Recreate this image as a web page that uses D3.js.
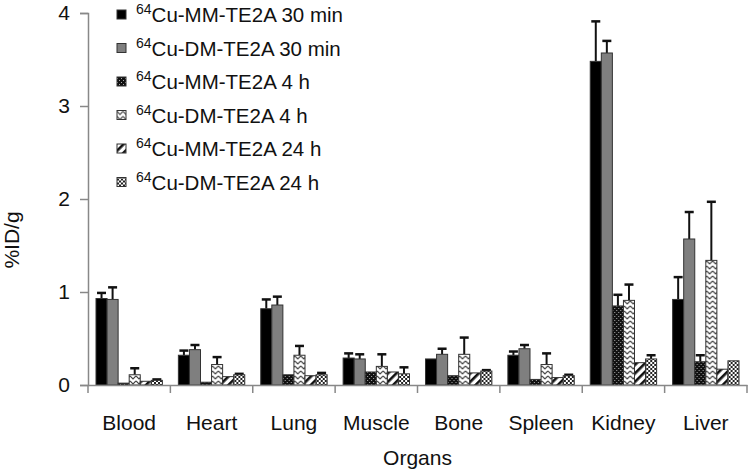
<!DOCTYPE html>
<html>
<head>
<meta charset="utf-8">
<script src="https://cdn.jsdelivr.net/npm/d3@7"></script>
<style>
	body { margin: 0; background: #fff; }
	text { font-family: "Liberation Sans", Arial, sans-serif; fill: #111; }
</style>
</head>
<body>
<div id="chart"></div>
<script>

// data
var organs = ["Blood", "Heart", "Lung", "Muscle", "Bone", "Spleen", "Kidney", "Liver"];

var seriesNames = [
	"Cu-MM-TE2A 30 min",
	"Cu-DM-TE2A 30 min",
	"Cu-MM-TE2A 4 h",
	"Cu-DM-TE2A 4 h",
	"Cu-MM-TE2A 24 h",
	"Cu-DM-TE2A 24 h"
];

var mm30  = [0.93, 0.32, 0.82, 0.29, 0.28, 0.32, 3.48, 0.92];
var dm30  = [0.92, 0.38, 0.86, 0.28, 0.33, 0.39, 3.57, 1.57];
var mm4h  = [0.02, 0.03, 0.11, 0.14, 0.10, 0.06, 0.85, 0.25];
var dm4h  = [0.11, 0.22, 0.32, 0.20, 0.33, 0.22, 0.91, 1.34];
var mm24h = [0.04, 0.09, 0.10, 0.14, 0.13, 0.08, 0.24, 0.17];
var dm24h = [0.05, 0.11, 0.11, 0.12, 0.15, 0.10, 0.28, 0.26];

var mm30Err  = [0.06, 0.05, 0.10, 0.05, 0.00, 0.04, 0.43, 0.24];
var dm30Err  = [0.13, 0.05, 0.09, 0.05, 0.06, 0.04, 0.13, 0.29];
var mm4hErr  = [0.00, 0.00, 0.00, 0.00, 0.00, 0.00, 0.12, 0.07];
var dm4hErr  = [0.07, 0.08, 0.10, 0.13, 0.18, 0.12, 0.17, 0.63];
var mm24hErr = [0.00, 0.00, 0.00, 0.00, 0.00, 0.00, 0.00, 0.00];
var dm24hErr = [0.01, 0.01, 0.02, 0.07, 0.01, 0.01, 0.04, 0.00];

var yTicks = [0, 1, 2, 3, 4];

var values = [mm30, dm30, mm4h, dm4h, mm24h, dm24h];
var errors = [mm30Err, dm30Err, mm4hErr, dm4hErr, mm24hErr, dm24hErr];
var fills  = ["#000", "#7f7f7f", "url(#pMM4)", "url(#pDM4)", "url(#pMM24)", "url(#pDM24)"];

var width = 750, height = 472;
var margin = { left: 88, right: 3, top: 13, bottom: 87 };

var svg = d3.select("#chart")
	.append("svg")
	.attr("width", width)
	.attr("height", height);

// fill patterns
var defs = svg.append("defs");

var p = defs.append("pattern").attr("id", "pMM4")
	.attr("patternUnits", "userSpaceOnUse").attr("width", 4).attr("height", 4);
p.append("rect").attr("width", 4).attr("height", 4).attr("fill", "#111");
p.append("rect").attr("x", 0).attr("y", 0).attr("width", 1).attr("height", 1).attr("fill", "#aaa");
p.append("rect").attr("x", 2).attr("y", 2).attr("width", 1).attr("height", 1).attr("fill", "#aaa");

p = defs.append("pattern").attr("id", "pDM4")
	.attr("patternUnits", "userSpaceOnUse").attr("width", 6).attr("height", 5);
p.append("rect").attr("width", 6).attr("height", 5).attr("fill", "#fff");
p.append("path").attr("d", "M0,1 L3,4 L6,1").attr("fill", "none")
	.attr("stroke", "#444").attr("stroke-width", 1.2);

p = defs.append("pattern").attr("id", "pMM24")
	.attr("patternUnits", "userSpaceOnUse").attr("width", 6).attr("height", 6)
	.attr("patternTransform", "rotate(45)");
p.append("rect").attr("width", 6).attr("height", 6).attr("fill", "#fff");
p.append("rect").attr("width", 2.6).attr("height", 6).attr("fill", "#111");

p = defs.append("pattern").attr("id", "pDM24")
	.attr("patternUnits", "userSpaceOnUse").attr("width", 4).attr("height", 4);
p.append("rect").attr("width", 4).attr("height", 4).attr("fill", "#fff");
p.append("rect").attr("x", 0).attr("y", 0).attr("width", 2).attr("height", 2).attr("fill", "#222");
p.append("rect").attr("x", 2).attr("y", 2).attr("width", 2).attr("height", 2).attr("fill", "#222");

var x = d3.scaleBand()
	.domain(organs)
	.range([margin.left, width - margin.right])
	.paddingInner(0)
	.paddingOuter(0);

var xSub = d3.scaleBand()
	.domain(d3.range(seriesNames.length))
	.range([8, x.bandwidth() - 8]);

var y = d3.scaleLinear()
	.domain([0, 4])
	.range([height - margin.bottom, margin.top]);

// bars
var groups = svg.append("g").selectAll("g")
	.data(organs)
	.enter().append("g")
	.attr("transform", function(d) { return "translate(" + x(d) + ",0)"; });

groups.each(function(organ, i) {
	var g = d3.select(this);
	values.forEach(function(vals, s) {
		var bx = xSub(s), bw = xSub.bandwidth();
		var v = vals[i], e = errors[s][i];
		if (e > 0) {
			g.append("line")
				.attr("x1", bx + bw / 2).attr("x2", bx + bw / 2)
				.attr("y1", y(v)).attr("y2", y(v + e))
				.attr("stroke", "#111").attr("stroke-width", 2);
			g.append("line")
				.attr("x1", bx + bw / 2 - 4.5).attr("x2", bx + bw / 2 + 4.5)
				.attr("y1", y(v + e)).attr("y2", y(v + e))
				.attr("stroke", "#111").attr("stroke-width", 2.5);
		}
		g.append("rect")
			.attr("x", bx)
			.attr("y", y(v))
			.attr("width", bw)
			.attr("height", y(0) - y(v))
			.attr("fill", fills[s])
			.attr("stroke", "#333")
			.attr("stroke-width", 1);
	});
});

// axes
var yAxis = svg.append("g")
	.attr("transform", "translate(" + margin.left + ",0)")
	.call(d3.axisLeft(y).tickValues(yTicks).tickSize(8).tickPadding(10).tickFormat(d3.format("d")));

var xAxis = svg.append("g")
	.attr("transform", "translate(0," + y(0) + ")")
	.call(d3.axisBottom(x).tickSize(0).tickPadding(30));

[yAxis, xAxis].forEach(function(a) {
	a.select(".domain").attr("stroke", "#888").attr("stroke-width", 1.5);
	a.selectAll(".tick line").attr("stroke", "#888").attr("stroke-width", 1.5);
	a.selectAll("text").style("font-size", "21px").attr("fill", "#111");
});

// category boundary ticks
xAxis.selectAll(".sep")
	.data(organs.concat(["end"]))
	.enter().append("line")
	.attr("x1", function(d, i) { return margin.left + i * x.bandwidth(); })
	.attr("x2", function(d, i) { return margin.left + i * x.bandwidth(); })
	.attr("y1", 0).attr("y2", 8)
	.attr("stroke", "#888").attr("stroke-width", 1.5);

// axis titles
svg.append("text")
	.attr("x", (margin.left + width - margin.right) / 2)
	.attr("y", 465)
	.attr("text-anchor", "middle")
	.style("font-size", "21px")
	.text("Organs");

svg.append("text")
	.attr("transform", "translate(19,240) rotate(-90)")
	.attr("text-anchor", "middle")
	.style("font-size", "21px")
	.text("%ID/g");

// legend
var legend = svg.append("g").attr("transform", "translate(117,15)");
seriesNames.forEach(function(name, s) {
	var row = legend.append("g").attr("transform", "translate(0," + s * 33.5 + ")");
	row.append("rect")
		.attr("x", 0).attr("y", -5)
		.attr("width", 9).attr("height", 9)
		.attr("fill", fills[s])
		.attr("stroke", "#333").attr("stroke-width", 1);
	var t = row.append("text")
		.attr("x", 19).attr("y", 7)
		.style("font-size", "20.5px");
	t.append("tspan").attr("dy", -8).style("font-size", "14px").text("64");
	t.append("tspan").attr("dy", 8).text(name);
});

</script>
</body>
</html>
